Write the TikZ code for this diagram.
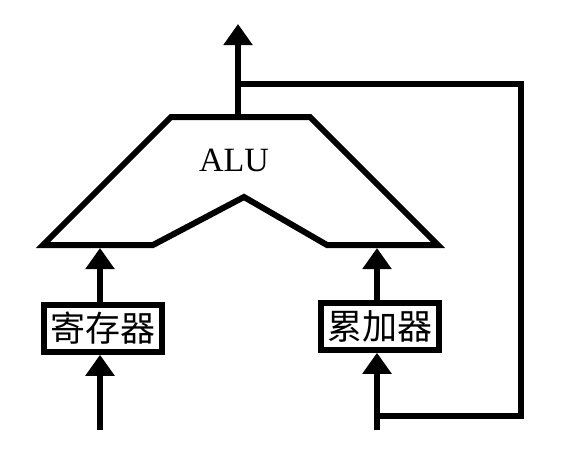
\documentclass[tikz,border=0pt]{standalone}
\usepackage{fontspec}
\setmainfont{Liberation Serif}
\newfontfamily\cjk{Noto Sans CJK SC}
\usetikzlibrary{arrows.meta}
\begin{document}
\begin{tikzpicture}[x=1pt,y=-1pt,
  wire/.style={line width=6pt},
  arr/.style={wire,-{Triangle[length=21pt,width=28pt]}},
  regbox/.style={draw,line width=5.5pt,minimum width=118pt,minimum height=47pt,inner sep=0pt,font=\cjk\fontsize{35}{35}\selectfont}]
\useasboundingbox (0,0) rectangle (562,461);
% ALU outline
\coordinate (tl) at (171,117);
\coordinate (tr) at (310,117);
\coordinate (br) at (438,245);
\coordinate (brk) at (327,245);
\coordinate (apex) at (244,197);
\coordinate (blk) at (153,245);
\coordinate (bl) at (43,245);
\draw[wire] (bl) -- (tl) -- (tr) -- (br) -- (brk) -- (apex) -- (blk) -- cycle;
\node[font=\fontsize{34}{34}\selectfont] (alu) at (234,160) {ALU};
% output
\coordinate (aluout) at (238,117);
\coordinate (outtip) at (238,24);
\coordinate (fbstart) at (238,84);
\coordinate (fbtr) at (521,84);
\coordinate (fbbr) at (521,416);
\coordinate (fbend) at (377,416);
\draw[arr] (aluout) -- (outtip);
\draw[wire] (fbstart) -- (fbtr) -- (fbbr) -- (fbend);
% registers
\node[regbox] (reg) at (103,328.5) {寄存器};
\node[regbox] (acc) at (380,326.5) {累加器};
\coordinate (aluinL) at (100,248);
\coordinate (aluinR) at (377,248);
\coordinate (inL) at (100,430);
\coordinate (inR) at (377,430);
\draw[arr] (reg.north -| aluinL) -- (aluinL);
\draw[arr] (acc.north -| aluinR) -- (aluinR);
\draw[arr] (inL) -- (inL |- reg.south);
\draw[arr] (inR) -- (inR |- acc.south);
\end{tikzpicture}
\end{document}
